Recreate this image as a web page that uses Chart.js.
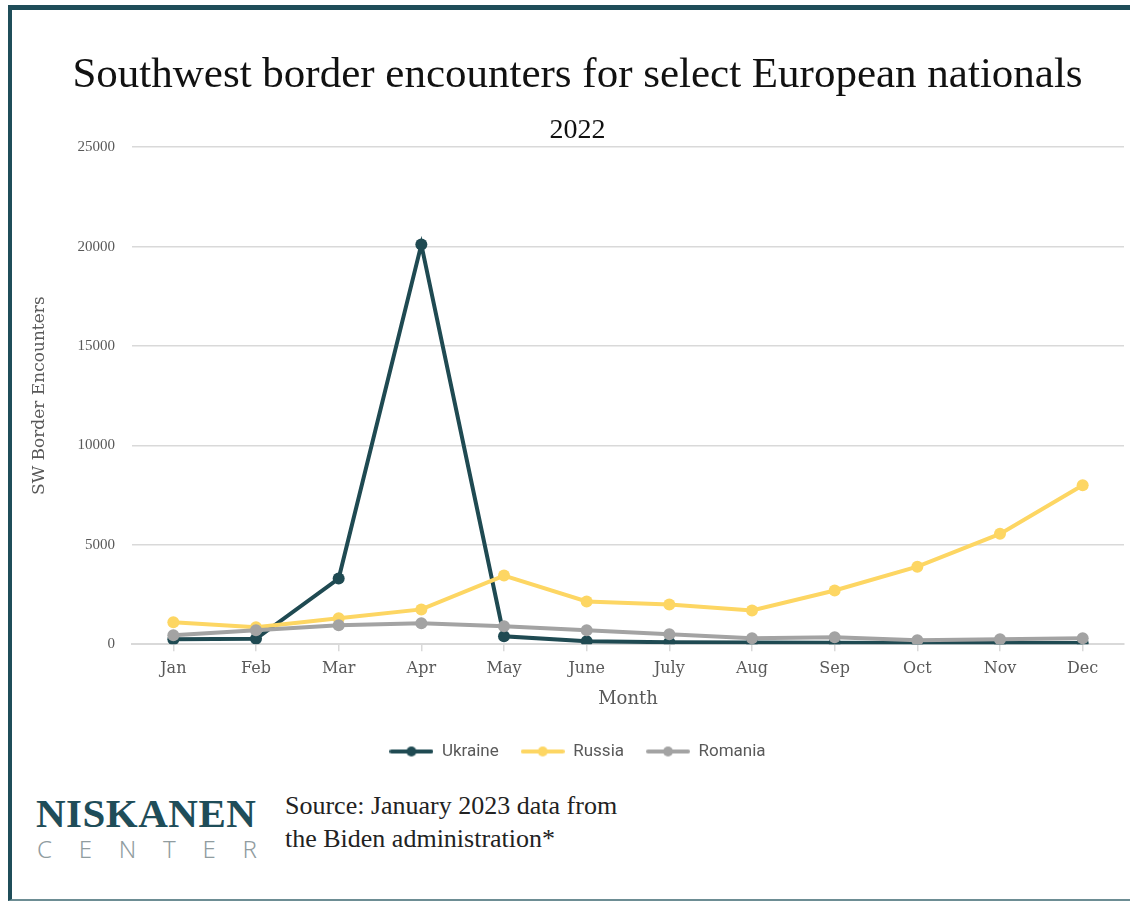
<!DOCTYPE html>
<html>
<head>
<meta charset="utf-8">
<script src="https://cdn.jsdelivr.net/npm/chart.js@4"></script>
<style>
    html, body { margin: 0; padding: 0; background: #fff; }
    body { width: 1130px; height: 902px; position: relative; overflow: hidden; }
    #frame {
        position: absolute; left: 8px; top: 5px; width: 1130px; bottom: 1px;
        border-left: 4px solid #1f4d59; border-top: 5px solid #1f4d59; border-bottom: 2px solid #6d8d94;
    }
    #chart { position: absolute; left: 0; top: 0; }
    .logo { position: absolute; left: 36px; top: 793px; width: 222px; }
    .logo .name { font-family: "Liberation Serif", serif; font-weight: bold; font-size: 41px; line-height: 41px; color: #1f4d59; letter-spacing: 0.5px; }
    .logo .sub { display: flex; justify-content: space-between; font-family: "Noto Sans", sans-serif; font-weight: 300; font-size: 24px; line-height: 24px; color: #909c9f; margin-top: 3px; padding: 0 1px; }
    .source { position: absolute; left: 285px; top: 789px; font-family: "Liberation Serif", serif; font-size: 26px; line-height: 33px; color: #222; }
</style>
</head>
<body>
<div id="frame"></div>
<canvas id="chart" width="1130" height="780"></canvas>
<div class="logo">
    <div class="name">NISKANEN</div>
    <div class="sub"><span>C</span><span>E</span><span>N</span><span>T</span><span>E</span><span>R</span></div>
</div>
<div class="source">Source: January 2023 data from<br>the Biden administration*</div>
<script>
"use strict";

const months = ["Jan", "Feb", "Mar", "Apr", "May", "June", "July", "Aug", "Sep", "Oct", "Nov", "Dec"];
const ukraine = [250, 270, 3300, 20100, 400, 150, 100, 80, 70, 60, 60, 60];
const russia = [1100, 850, 1300, 1750, 3450, 2150, 2000, 1700, 2700, 3900, 5550, 8000];
const romania = [450, 700, 950, 1050, 900, 700, 500, 300, 350, 200, 250, 300];
const yTicks = [0, 5000, 10000, 15000, 20000, 25000];

const colors = {
    ukraine: "#1f4a52",
    russia: "#fdd663",
    romania: "#a3a3a3"
};

function legendMarker(color) {
    const c = document.createElement("canvas");
    c.width = 44;
    c.height = 14;
    const ctx = c.getContext("2d");
    ctx.strokeStyle = color;
    ctx.lineWidth = 4;
    ctx.lineCap = "round";
    ctx.beginPath();
    ctx.moveTo(2, 7);
    ctx.lineTo(42, 7);
    ctx.stroke();
    ctx.fillStyle = color;
    ctx.beginPath();
    ctx.arc(22, 7, 5, 0, Math.PI * 2);
    ctx.fill();
    return c;
}

function buildDataset(label, data, color, order) {
    return {
        label,
        data,
        order,
        borderColor: color,
        backgroundColor: color,
        borderWidth: 4,
        pointRadius: 6,
        pointBorderWidth: 0,
        tension: 0,
        marker: legendMarker(color)
    };
}

function buildLegend() {
    return {
        position: "bottom",
        labels: {
            usePointStyle: true,
            pointStyleWidth: 44,
            padding: 22,
            color: "#595959",
            font: { family: "Roboto, sans-serif", size: 17 },
            sort: (a, b) => a.datasetIndex - b.datasetIndex,
            generateLabels(chart) {
                const items = Chart.defaults.plugins.legend.labels.generateLabels(chart);
                items.forEach(item => {
                    item.pointStyle = chart.data.datasets[item.datasetIndex].marker;
                });
                return items;
            }
        }
    };
}

const serif = "'DejaVu Serif', serif";

new Chart(document.querySelector("#chart").getContext("2d"), {
    type: "line",
    data: {
        labels: months,
        datasets: [
            buildDataset("Ukraine", ukraine, colors.ukraine, 3),
            buildDataset("Russia", russia, colors.russia, 2),
            buildDataset("Romania", romania, colors.romania, 1)
        ]
    },
    options: {
        responsive: false,
        animation: false,
        layout: { padding: { left: 25, right: 0, top: 20, bottom: 10 } },
        plugins: {
            tooltip: { enabled: false },
            title: {
                display: true,
                text: "Southwest border encounters for select European nationals",
                color: "#111",
                font: { family: "'Liberation Serif', serif", size: 43, weight: "normal" },
                padding: { top: 30, bottom: 5 }
            },
            subtitle: {
                display: true,
                text: "2022",
                color: "#111",
                font: { family: "'Liberation Serif', serif", size: 28, weight: "normal" },
                padding: { top: 7, bottom: 0 }
            },
            legend: buildLegend()
        },
        scales: {
            x: {
                offset: true,
                grid: { drawOnChartArea: false, drawTicks: true, tickLength: 7, color: "#d9d9d9", lineWidth: 1.5 },
                border: { color: "#d9d9d9", width: 2 },
                ticks: { color: "#595959", padding: 8, font: { family: serif, size: 16 }, maxRotation: 0 },
                title: { display: true, text: "Month", color: "#595959", font: { family: serif, size: 18 }, padding: { top: 2, bottom: 11 } }
            },
            y: {
                min: 0,
                max: 25000,
                afterBuildTicks: scale => { scale.ticks = yTicks.map(v => ({ value: v })); },
                afterFit: scale => { scale.width = 107; },
                grid: { color: "#d9d9d9", lineWidth: 1.5, drawTicks: false },
                border: { display: false },
                ticks: { color: "#595959", padding: 17, font: { family: "'Liberation Serif', serif", size: 15 }, callback: v => String(v) },
                title: { display: true, text: "SW Border Encounters", color: "#595959", font: { family: serif, size: 17 } }
            }
        }
    }
});
</script>
</body>
</html>
